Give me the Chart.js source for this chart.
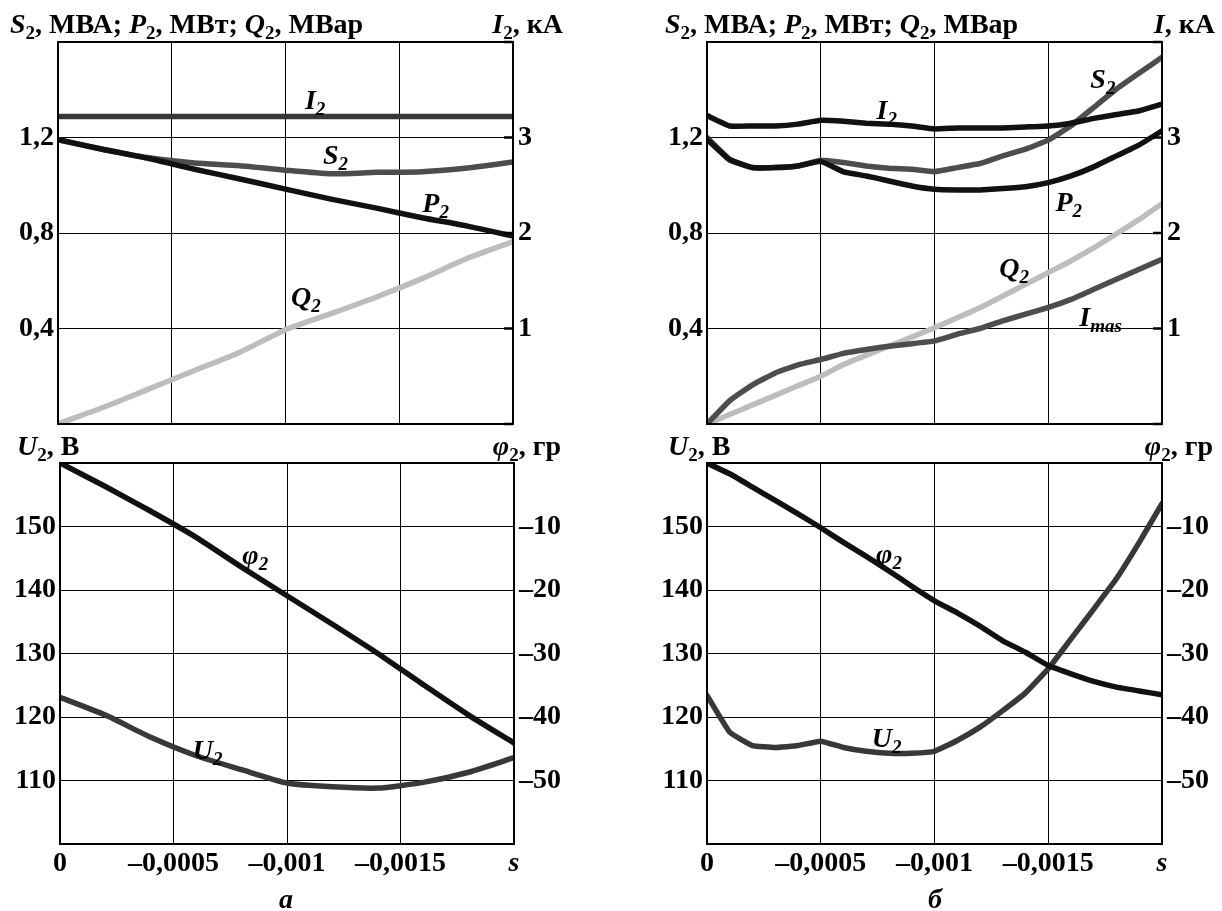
<!DOCTYPE html>
<html>
<head>
<meta charset="utf-8">
<script src="https://cdn.jsdelivr.net/npm/chart.js@4.4.1/dist/chart.umd.min.js"></script>
<style>
html, body { margin: 0; padding: 0; background: #fff; }
#wrap { position: relative; width: 1222px; height: 911px; }
canvas { position: absolute; left: 0; top: 0; }
</style>
</head>
<body>
<div id="wrap">
  <canvas id="topA" width="1222" height="911"></canvas>
  <canvas id="botA" width="1222" height="911"></canvas>
  <canvas id="topB" width="1222" height="911"></canvas>
  <canvas id="botB" width="1222" height="911"></canvas>
</div>
<script>
// slip s (x axis)
const sA = [0, -0.0002, -0.0004, -0.0006, -0.0008, -0.001, -0.0012, -0.0014, -0.0016, -0.0018, -0.002];
const sB = [0, -0.0001, -0.0002, -0.0003, -0.0004, -0.0005, -0.0006, -0.0007, -0.0008, -0.0009, -0.001,
            -0.0011, -0.0012, -0.0013, -0.0014, -0.0015, -0.0016, -0.0017, -0.0018, -0.0019, -0.002];

// panel "а"
const s2A = [1.191, 1.150, 1.115, 1.093, 1.082, 1.063, 1.048, 1.054, 1.057, 1.072, 1.097]; // MVA
const p2A = [1.191, 1.150, 1.112, 1.067, 1.026, 0.984, 0.942, 0.904, 0.864, 0.829, 0.787]; // MW
const q2A = [0, 0.070, 0.147, 0.224, 0.301, 0.395, 0.462, 0.532, 0.609, 0.694, 0.764];     // MVar
const i2A = [3.22, 3.22, 3.22, 3.22, 3.22, 3.22, 3.22, 3.22, 3.22, 3.22, 3.22];            // kA
const u2A = [123.1, 120.3, 116.8, 113.9, 111.7, 109.6, 109.0, 108.8, 109.7, 111.3, 113.6];  // V
const phi2A = [0, -3.7, -7.6, -11.7, -16.4, -20.9, -25.4, -30.0, -34.9, -39.7, -44.1];    // deg

// panel "б"
const s2B = [1.200, 1.109, 1.074, 1.074, 1.081, 1.105, 1.095, 1.081, 1.071, 1.067, 1.057,
             1.074, 1.091, 1.123, 1.151, 1.189, 1.249, 1.326, 1.403, 1.470, 1.536];
const p2B = [1.193, 1.106, 1.074, 1.074, 1.081, 1.100, 1.056, 1.039, 1.018, 0.997, 0.983,
             0.980, 0.980, 0.986, 0.994, 1.011, 1.039, 1.077, 1.123, 1.169, 1.228];
const q2B = [0, 0.040, 0.080, 0.120, 0.160, 0.200, 0.249, 0.288, 0.326, 0.364, 0.403,
             0.445, 0.487, 0.536, 0.585, 0.634, 0.683, 0.738, 0.797, 0.857, 0.923];
const i2B = [3.23, 3.12, 3.12, 3.12, 3.14, 3.18, 3.17, 3.15, 3.14, 3.12, 3.09,
             3.10, 3.10, 3.10, 3.11, 3.12, 3.15, 3.20, 3.24, 3.28, 3.35];
const imasB = [0, 0.245, 0.41, 0.535, 0.62, 0.675, 0.74, 0.78, 0.815, 0.84, 0.87,
               0.94, 1.0, 1.08, 1.15, 1.22, 1.305, 1.41, 1.515, 1.62, 1.725];
const u2B = [123.4, 117.6, 115.5, 115.2, 115.5, 116.2, 115.2, 114.6, 114.3, 114.3, 114.6,
             116.3, 118.4, 121.0, 123.8, 127.6, 132.3, 137.0, 141.8, 147.5, 153.6];
const phi2B = [0, -1.7, -3.8, -5.9, -8.0, -10.2, -12.5, -14.7, -17.0, -19.4, -21.7,
               -23.6, -25.7, -28.0, -29.8, -31.9, -33.2, -34.4, -35.3, -35.9, -36.5];

// tick labels
const xTicks = [0, -0.0005, -0.001, -0.0015, -0.002];
const xTickText = ['0', '–0,0005', '–0,001', '–0,0015', 's'];
const pTicks = [0, 0.4, 0.8, 1.2, 1.6];
const pTickText = ['', '0,4', '0,8', '1,2', ''];
const iTicks = [0, 1, 2, 3, 4];
const iTickText = ['', '1', '2', '3', ''];
const uTicks = [100, 110, 120, 130, 140, 150, 160];
const uTickText = ['', '110', '120', '130', '140', '150', ''];
const phiTicks = [-60, -50, -40, -30, -20, -10, 0];
const phiTickText = ['', '–50', '–40', '–30', '–20', '–10', ''];

const FONT = '"Liberation Serif", "Times New Roman", serif';
const BLACK = '#111', DARK = '#383838', GREY = '#4d4d4d', LIGHT = '#bdbdbd';

// draw text made of runs: n = normal, i = italic, s = subscript, si = italic subscript
function runs(ctx, parts, x, y, align) {
  const fontOf = k => {
    const it = (k === 'i' || k === 'si') ? 'italic ' : '';
    const size = (k === 's' || k === 'si') ? 19 : 28;
    return it + 'bold ' + size + 'px ' + FONT;
  };
  let w = 0;
  parts.forEach(p => { ctx.font = fontOf(p[1]); w += ctx.measureText(p[0]).width; });
  let cx = align === 'right' ? x - w : align === 'center' ? x - w / 2 : x;
  ctx.textAlign = 'left';
  ctx.textBaseline = 'alphabetic';
  ctx.fillStyle = '#000';
  parts.forEach(p => {
    ctx.font = fontOf(p[1]);
    const dy = (p[1] === 's' || p[1] === 'si') ? 6 : 0;
    ctx.fillText(p[0], cx, y + dy);
    cx += ctx.measureText(p[0]).width;
  });
}

function series(xs, ys, color, axis) {
  return {
    data: xs.map((s, i) => ({ x: s, y: ys[i] })),
    borderColor: color,
    yAxisID: axis
  };
}

function panel(id, box, o) {
  const WL = 50, WR = 60, HX = 40;
  const decor = {
    id: 'decor',
    afterDraw(chart) {
      const ctx = chart.ctx, a = chart.chartArea;
      ctx.save();
      ctx.strokeStyle = '#000';
      ctx.lineWidth = 2;
      ctx.strokeRect(a.left, a.top, a.right - a.left, a.bottom - a.top);
      if (o.innerTicks) {
        const yR = chart.scales.yR;
        ctx.lineWidth = 2.5;
        o.rTicks.forEach(v => {
          const py = yR.getPixelForValue(v);
          ctx.beginPath();
          ctx.moveTo(a.right - 9, py);
          ctx.lineTo(a.right, py);
          ctx.stroke();
        });
      }
      const x = chart.scales.x, yL = chart.scales.yL;
      o.labels.forEach(l => {
        runs(ctx, l.parts, x.getPixelForValue(l.at[0]), yL.getPixelForValue(l.at[1]) + 9, 'center');
      });
      o.titles.forEach(t => runs(ctx, t.parts, t.x, t.y, t.align));
      ctx.restore();
    }
  };
  return new Chart(document.getElementById(id), {
    type: 'line',
    data: { datasets: o.datasets },
    options: {
      responsive: false,
      animation: false,
      events: [],
      layout: {
        padding: { left: box.left - WL, top: box.top, right: 1222 - box.right - WR, bottom: 911 - box.bottom - HX }
      },
      plugins: { legend: { display: false }, tooltip: { enabled: false } },
      elements: {
        point: { radius: 0 },
        line: { borderWidth: 5.5, tension: o.tension, borderCapStyle: 'round', borderJoinStyle: 'round', fill: false }
      },
      scales: {
        x: {
          type: 'linear', min: -0.002, max: 0, reverse: true,
          afterBuildTicks: s => { s.ticks = xTicks.map(v => ({ value: v })); },
          afterFit: s => { s.height = HX; s.paddingLeft = 0; s.paddingRight = 0; },
          grid: { color: '#000', lineWidth: 1, drawTicks: false },
          border: { display: false },
          ticks: {
            display: o.xLabels, padding: 3, color: '#000', maxRotation: 0, autoSkip: false,
            font: c => ({ family: FONT, size: 28, weight: 'bold',
                          style: (c.tick && c.tick.value === -0.002) ? 'italic' : 'normal' }),
            callback: (v, i) => xTickText[i]
          }
        },
        yL: {
          type: 'linear', position: 'left', min: o.lTicks[0], max: o.lTicks[o.lTicks.length - 1],
          afterBuildTicks: s => { s.ticks = o.lTicks.map(v => ({ value: v })); },
          afterFit: s => { s.width = WL; s.paddingTop = 0; s.paddingBottom = 0; },
          grid: { color: '#000', lineWidth: 1, drawTicks: false },
          border: { display: false },
          ticks: { padding: 4, color: '#000', font: { family: FONT, size: 28, weight: 'bold' },
                   callback: (v, i) => o.lText[i] }
        },
        yR: {
          type: 'linear', position: 'right', min: o.rTicks[0], max: o.rTicks[o.rTicks.length - 1],
          afterBuildTicks: s => { s.ticks = o.rTicks.map(v => ({ value: v })); },
          afterFit: s => { s.width = WR; s.paddingTop = 0; s.paddingBottom = 0; },
          grid: { drawOnChartArea: false, drawTicks: false },
          border: { display: false },
          ticks: { padding: 5, color: '#000', font: { family: FONT, size: 28, weight: 'bold' },
                   callback: (v, i) => o.rText[i] }
        }
      }
    },
    plugins: [decor]
  });
}

const titleP = [['S', 'i'], ['2', 's'], [', МВА; ', 'n'], ['P', 'i'], ['2', 's'], [', МВт; ', 'n'],
                ['Q', 'i'], ['2', 's'], [', МВар', 'n']];
const titleU = [['U', 'i'], ['2', 's'], [', В', 'n']];
const titlePhi = [['φ', 'i'], ['2', 's'], [', гр', 'n']];
const sub2 = l => [[l, 'i'], ['2', 'si']];

panel('topA', { left: 58, top: 42, right: 513, bottom: 424 }, {
  tension: 0.2, xLabels: false, innerTicks: true,
  lTicks: pTicks, lText: pTickText, rTicks: iTicks, rText: iTickText,
  datasets: [
    series(sA, i2A, DARK, 'yR'),
    series(sA, p2A, BLACK, 'yL'),
    series(sA, s2A, GREY, 'yL'),
    series(sA, q2A, LIGHT, 'yL')
  ],
  labels: [
    { parts: sub2('I'), at: [-0.00113, 1.357] },
    { parts: sub2('S'), at: [-0.00122, 1.127] },
    { parts: sub2('P'), at: [-0.00166, 0.926] },
    { parts: sub2('Q'), at: [-0.00109, 0.532] }
  ],
  titles: [
    { parts: titleP, x: 10, y: 33, align: 'left' },
    { parts: [['I', 'i'], ['2', 's'], [', кА', 'n']], x: 563, y: 33, align: 'right' }
  ]
});

panel('botA', { left: 60, top: 463, right: 514, bottom: 844 }, {
  tension: 0.2, xLabels: true, innerTicks: false,
  lTicks: uTicks, lText: uTickText, rTicks: phiTicks, rText: phiTickText,
  datasets: [
    series(sA, phi2A, BLACK, 'yR'),
    series(sA, u2A, DARK, 'yL')
  ],
  labels: [
    { parts: sub2('φ'), at: [-0.00086, 145.5] },
    { parts: sub2('U'), at: [-0.00065, 114.8] }
  ],
  titles: [
    { parts: titleU, x: 17, y: 455, align: 'left' },
    { parts: titlePhi, x: 561, y: 455, align: 'right' },
    { parts: [['а', 'i']], x: 286, y: 908, align: 'center' }
  ]
});

panel('topB', { left: 707, top: 42, right: 1162, bottom: 424 }, {
  tension: 0.1, xLabels: false, innerTicks: true,
  lTicks: pTicks, lText: pTickText, rTicks: iTicks, rText: iTickText,
  datasets: [
    series(sB, p2B, BLACK, 'yL'),
    series(sB, i2B, BLACK, 'yR'),
    series(sB, s2B, GREY, 'yL'),
    series(sB, imasB, GREY, 'yR'),
    series(sB, q2B, LIGHT, 'yL')
  ],
  labels: [
    { parts: sub2('S'), at: [-0.00174, 1.445] },
    { parts: sub2('I'), at: [-0.00079, 1.315] },
    { parts: sub2('P'), at: [-0.00159, 0.930] },
    { parts: sub2('Q'), at: [-0.00135, 0.653] },
    { parts: [['I', 'i'], ['mas', 'si']], at: [-0.00173, 0.448] }
  ],
  titles: [
    { parts: titleP, x: 665, y: 33, align: 'left' },
    { parts: [['I', 'i'], [', кА', 'n']], x: 1215, y: 33, align: 'right' }
  ]
});

panel('botB', { left: 707, top: 463, right: 1162, bottom: 844 }, {
  tension: 0.1, xLabels: true, innerTicks: false,
  lTicks: uTicks, lText: uTickText, rTicks: phiTicks, rText: phiTickText,
  datasets: [
    series(sB, phi2B, BLACK, 'yR'),
    series(sB, u2B, DARK, 'yL')
  ],
  labels: [
    { parts: sub2('φ'), at: [-0.00080, 145.7] },
    { parts: sub2('U'), at: [-0.00079, 116.7] }
  ],
  titles: [
    { parts: titleU, x: 668, y: 455, align: 'left' },
    { parts: titlePhi, x: 1213, y: 455, align: 'right' },
    { parts: [['б', 'i']], x: 935, y: 908, align: 'center' }
  ]
});
</script>
</body>
</html>
